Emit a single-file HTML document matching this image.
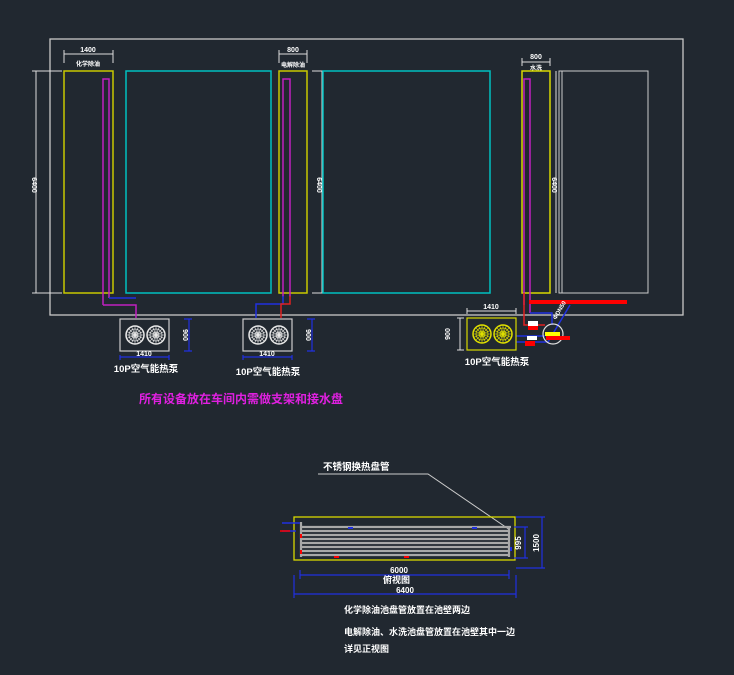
<!DOCTYPE html>
<html><head><meta charset="utf-8"><style>
html,body{margin:0;padding:0;background:#212830;}
svg{display:block}
text{font-family:"Liberation Sans","Noto Sans CJK SC",sans-serif;fill:#fff;font-weight:bold}
</style></head><body>
<svg width="734" height="675" viewBox="0 0 734 675" xmlns="http://www.w3.org/2000/svg">
<defs>
<g id="fan">
<circle r="9" fill="none" stroke-width="1.5"/>
<circle r="6" fill="none" stroke-width="0.8"/>
<circle r="3" fill="none" stroke-width="0.8"/>
<path d="M-9 0H9M0 -9V9M-6.4 -6.4L6.4 6.4M-6.4 6.4L6.4 -6.4M-3.4 -8.3L3.4 8.3M3.4 -8.3L-3.4 8.3M-8.3 -3.4L8.3 3.4M-8.3 3.4L8.3 -3.4" stroke-width="0.6"/>
</g>
</defs>
<rect width="734" height="675" fill="#212830"/>
<rect x="50" y="39" width="633" height="276" fill="none" stroke="#c8c8c8" stroke-width="1.3"/>
<g stroke="#ddd" stroke-width="1" fill="none">
<line x1="36" y1="71" x2="36" y2="293"/><line x1="32" y1="71" x2="62" y2="71"/><line x1="32" y1="293" x2="62" y2="293"/>
<line x1="322" y1="71" x2="322" y2="293"/><line x1="312" y1="71" x2="326" y2="71"/><line x1="312" y1="293" x2="326" y2="293"/>
<line x1="64" y1="54" x2="113" y2="54"/><line x1="64" y1="50" x2="64" y2="63"/><line x1="113" y1="50" x2="113" y2="63"/>
<line x1="279" y1="54" x2="307" y2="54"/><line x1="279" y1="50" x2="279" y2="63"/><line x1="307" y1="50" x2="307" y2="63"/>
<line x1="522" y1="62" x2="550" y2="62"/><line x1="522" y1="58" x2="522" y2="66"/><line x1="550" y1="58" x2="550" y2="66"/>
<line x1="556" y1="71" x2="556" y2="293"/>
</g>
<text x="32" y="185" font-size="7" transform="rotate(90 32 185)" text-anchor="middle">6400</text>
<text x="317" y="185" font-size="7" transform="rotate(90 317 185)" text-anchor="middle">6400</text>
<text x="552" y="185" font-size="7" transform="rotate(90 552 185)" text-anchor="middle">6400</text>
<text x="88" y="52" font-size="7" text-anchor="middle">1400</text>
<text x="88" y="66" font-size="6" text-anchor="middle">化学除油</text>
<text x="293" y="52" font-size="7" text-anchor="middle">800</text>
<text x="293" y="67" font-size="6" text-anchor="middle">电解除油</text>
<text x="536" y="59" font-size="7" text-anchor="middle">800</text>
<text x="536" y="70" font-size="6" text-anchor="middle">水洗</text>
<g fill="none" stroke-width="1.5">
<rect x="64" y="71" width="49" height="222" stroke="#c8c800"/>
<rect x="126" y="71" width="145" height="222" stroke="#00c0c0"/>
<rect x="279" y="71" width="28" height="222" stroke="#c8c800"/>
<rect x="323" y="71" width="167" height="222" stroke="#00c0c0"/>
<rect x="522" y="71" width="28" height="222" stroke="#d8d800"/>
<rect x="559" y="71" width="89" height="222" stroke="#ccc" stroke-width="1"/>
<line x1="562" y1="71" x2="562" y2="293" stroke="#ccc" stroke-width="1"/>
</g>
<g fill="none" stroke-width="1.5">
<path d="M103 305 V79 H109 V298" stroke="#c020c0"/>
<path d="M103 305 H136 V318" stroke="#c020c0"/>
<path d="M109 298 H136" stroke="#2030e0"/>
<path d="M283 297 V79 H290 V297" stroke="#c020c0"/>
<path d="M283 296 V304 H256 V318" stroke="#2030e0"/>
<path d="M290 296 V304 H281 V318" stroke="#e02020"/>
<path d="M524 305 V79 H530 V313" stroke="#c020c0"/>
<path d="M530 313 H552 V325" stroke="#2030e0"/>
<path d="M524 293 V325 H545" stroke="#e02020"/>
<path d="M516 336 H545 M516 342 H548 L570 305" stroke="#2030e0"/>
</g>
<rect x="529" y="300" width="98" height="4" fill="#f00"/>
<rect x="528" y="321" width="10" height="5" fill="#fff"/><rect x="528" y="326" width="10" height="4" fill="#f00"/>
<rect x="527" y="336" width="10" height="4" fill="#fff"/><rect x="525" y="341" width="10" height="5" fill="#f00"/>
<circle cx="553" cy="334" r="10" fill="none" stroke="#ddd" stroke-width="1.2"/>
<rect x="545" y="332" width="15" height="4" fill="#ff0"/>
<rect x="546" y="336" width="24" height="4" fill="#f00"/>
<text x="556" y="320" font-size="6" transform="rotate(-60 556 320)">ΦDN50</text>
<rect x="120" y="319" width="49" height="32" fill="none" stroke="#ccc" stroke-width="1.2"/>
<rect x="243" y="319" width="49" height="32" fill="none" stroke="#ccc" stroke-width="1.2"/>
<rect x="467" y="318" width="49" height="32" fill="none" stroke="#d8d800" stroke-width="1.2"/>
<g stroke="#e8e8e8"><use href="#fan" x="135" y="335"/><use href="#fan" x="156" y="335"/><use href="#fan" x="258" y="335"/><use href="#fan" x="279" y="335"/></g>
<g stroke="#e0e000"><use href="#fan" x="482" y="334"/><use href="#fan" x="503" y="334"/></g>
<g stroke="#2030e0" stroke-width="1.2" fill="none">
<path d="M184 319 H192 M184 351 H192 M189 319 V351"/>
<path d="M120 357 H169 M120 355 V360 M169 355 V360"/>
<path d="M307 319 H315 M307 351 H315 M312 319 V351"/>
<path d="M243 357 H292 M243 355 V360 M292 355 V360"/>
</g>
<g stroke="#ddd" stroke-width="1" fill="none">
<path d="M457 318 H464 M457 350 H464 M460 318 V350"/>
<path d="M467 311 H516 M467 308 V314 M516 308 V314"/>
</g>
<text x="183" y="335" font-size="7" transform="rotate(90 183 335)" text-anchor="middle">900</text>
<text x="306" y="335" font-size="7" transform="rotate(90 306 335)" text-anchor="middle">900</text>
<text x="450" y="334" font-size="7" transform="rotate(-90 450 334)" text-anchor="middle">900</text>
<text x="144" y="356" font-size="7" text-anchor="middle">1410</text>
<text x="267" y="356" font-size="7" text-anchor="middle">1410</text>
<text x="491" y="309" font-size="7" text-anchor="middle">1410</text>
<text x="146" y="372" font-size="9.5" text-anchor="middle">10P空气能热泵</text>
<text x="268" y="375" font-size="9.5" text-anchor="middle">10P空气能热泵</text>
<text x="497" y="365" font-size="9.5" text-anchor="middle">10P空气能热泵</text>
<text x="139" y="403" font-size="12" style="fill:#e020e0">所有设备放在车间内需做支架和接水盘</text>
<text x="323" y="470" font-size="9.5">不锈钢换热盘管</text>
<path d="M318 474 H428 L510 530" stroke="#ccc" fill="none" stroke-width="1"/>
<rect x="294" y="517" width="221" height="43" fill="none" stroke="#d8d800" stroke-width="1.3"/>
<g stroke="#a8a8a8" stroke-width="2.2">
<line x1="300" y1="527" x2="511" y2="527"/><line x1="300" y1="531" x2="509" y2="531"/>
<line x1="300" y1="535" x2="509" y2="535"/><line x1="300" y1="539" x2="509" y2="539"/>
<line x1="300" y1="543" x2="509" y2="543"/><line x1="300" y1="547" x2="509" y2="547"/>
<line x1="300" y1="551" x2="509" y2="551"/><line x1="300" y1="555" x2="509" y2="555"/>
<line x1="301" y1="522" x2="301" y2="557"/><line x1="509" y1="527" x2="509" y2="557"/>
</g>
<path d="M282 523 H300 M282 531 H296" stroke="#2030e0" stroke-width="1.5"/>
<path d="M280 531 H290" stroke="#f00" stroke-width="1.5"/>
<g fill="#f00"><rect x="300" y="534" width="2" height="4"/><rect x="300" y="550" width="2" height="4"/><rect x="334" y="556" width="5" height="2"/><rect x="404" y="556" width="5" height="2"/></g>
<g fill="#2030e0"><rect x="348" y="527" width="5" height="2"/><rect x="472" y="527" width="5" height="2"/><rect x="510" y="547" width="2" height="4"/></g>
<g stroke="#2030e0" stroke-width="1.2" fill="none">
<path d="M514 527 H528 M514 558 H528 M525 527 V558"/>
<path d="M516 517 H545 M516 568 H545 M542 517 V568"/>
<path d="M300 575 H509 M300 570 V579 M509 570 V579"/>
<path d="M294 594 H516 M294 575 V598 M516 575 V598"/>
</g>
<text x="521" y="543" font-size="8" transform="rotate(-90 521 543)" text-anchor="middle">995</text>
<text x="539" y="543" font-size="8" transform="rotate(-90 539 543)" text-anchor="middle">1500</text>
<text x="399" y="573" font-size="8" text-anchor="middle">6000</text>
<text x="383" y="583" font-size="9">俯视图</text>
<text x="405" y="593" font-size="8" text-anchor="middle">6400</text>
<text x="344" y="613" font-size="9">化学除油池盘管放置在池壁两边</text>
<text x="344" y="635" font-size="9">电解除油、水洗池盘管放置在池壁其中一边</text>
<text x="344" y="652" font-size="9">详见正视图</text>
</svg>
</body></html>
